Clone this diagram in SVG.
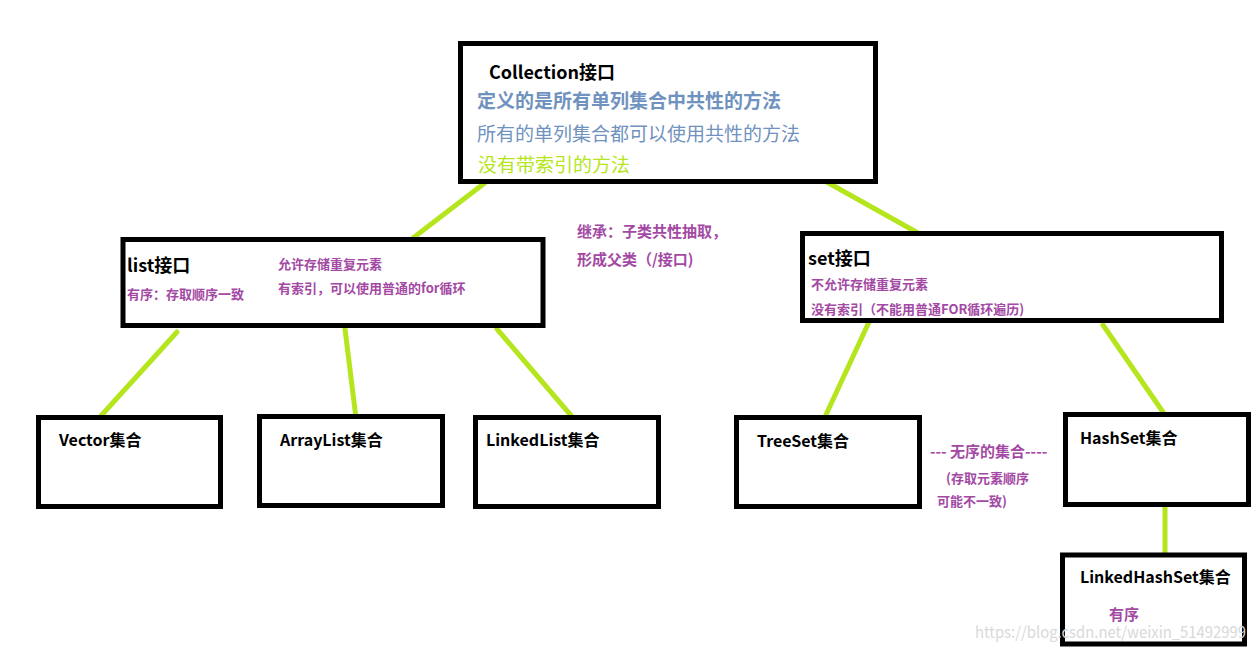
<svg xmlns="http://www.w3.org/2000/svg" width="1258" height="649" viewBox="0 0 1258 649">
<style>
.box{fill:#ffffff;stroke:#000000;stroke-width:5}
.conn{stroke:#b5e61d;stroke-width:5;fill:none;stroke-linecap:round}
text{font-family:"Noto Sans CJK SC","Noto Sans",sans-serif}
.title{font-weight:bold;fill:#000000;font-size:18px}
.name{font-weight:bold;fill:#000000;font-size:16px}
.note{font-weight:bold;fill:#a349a4;font-size:13px}
.note15{font-weight:bold;fill:#a349a4;font-size:15px}
.blue{fill:#7092be;font-size:19px}
</style>
<rect width="1258" height="649" fill="#ffffff"/>
<g id="connectors">
<line class="conn" x1="486" y1="182" x2="413" y2="238"/>
<line class="conn" x1="825" y1="181" x2="918" y2="233"/>
<line class="conn" x1="177" y1="332" x2="99" y2="418"/>
<line class="conn" x1="345" y1="329" x2="356" y2="418"/>
<line class="conn" x1="497" y1="329" x2="574" y2="419"/>
<line class="conn" x1="869" y1="322" x2="824" y2="419"/>
<line class="conn" x1="1103" y1="325" x2="1165" y2="415"/>
<line class="conn" x1="1165" y1="506" x2="1165" y2="556"/>
</g>
<g id="collection">
<rect class="box" x="460.5" y="43.5" width="415" height="138"/>
<text class="title" x="489" y="79">Collection接口</text>
<text class="blue" x="477" y="108" font-weight="bold">定义的是所有单列集合中共性的方法</text>
<text class="blue" x="477" y="141">所有的单列集合都可以使用共性的方法</text>
<text x="478" y="172" font-size="19" fill="#b5e61d">没有带索引的方法</text>
</g>
<g id="list">
<rect class="box" x="123" y="239.5" width="420" height="86"/>
<text class="title" x="127" y="272">list接口</text>
<text class="note" x="127" y="299">有序：存取顺序一致</text>
<text class="note" x="278" y="269">允许存储重复元素</text>
<text class="note" x="278" y="293">有索引，可以使用普通的for循环</text>
</g>
<g id="set">
<rect class="box" x="802.5" y="233.5" width="419" height="87"/>
<text class="title" x="808" y="265">set接口</text>
<text class="note" x="811" y="289">不允许存储重复元素</text>
<text class="note" x="811" y="314">没有索引（不能用普通FOR循环遍历)</text>
</g>
<g id="inherit-note">
<text class="note15" x="577" y="237">继承：子类共性抽取，</text>
<text class="note15" x="577" y="265">形成父类（/接口)</text>
</g>
<g id="vector">
<rect class="box" x="38.5" y="417.5" width="182" height="89"/>
<text class="name" x="59" y="446">Vector集合</text>
</g>
<g id="arraylist">
<rect class="box" x="259.5" y="416.5" width="183" height="89"/>
<text class="name" x="280" y="446">ArrayList集合</text>
</g>
<g id="linkedlist">
<rect class="box" x="475.5" y="417.5" width="183" height="89"/>
<text class="name" x="486" y="446">LinkedList集合</text>
</g>
<g id="treeset">
<rect class="box" x="736.5" y="417.5" width="183" height="89"/>
<text class="name" x="757" y="447">TreeSet集合</text>
</g>
<g id="unordered-note">
<text class="note15" x="930" y="457">--- 无序的集合----</text>
<text class="note" x="946" y="483">(存取元素顺序</text>
<text class="note" x="937" y="506">可能不一致)</text>
</g>
<g id="hashset">
<rect class="box" x="1065.5" y="414.5" width="183" height="90"/>
<text class="name" x="1080" y="444">HashSet集合</text>
</g>
<g id="linkedhashset">
<rect class="box" x="1062.5" y="555" width="182" height="89"/>
<text class="name" x="1080" y="583">LinkedHashSet集合</text>
<text class="note15" x="1109" y="620">有序</text>
</g>
<text x="975" y="638" font-family="Liberation Sans, sans-serif" font-size="16" textLength="271" lengthAdjust="spacingAndGlyphs" fill="#d9d9d9">https://blog.csdn.net/weixin_51492999</text>
</svg>
